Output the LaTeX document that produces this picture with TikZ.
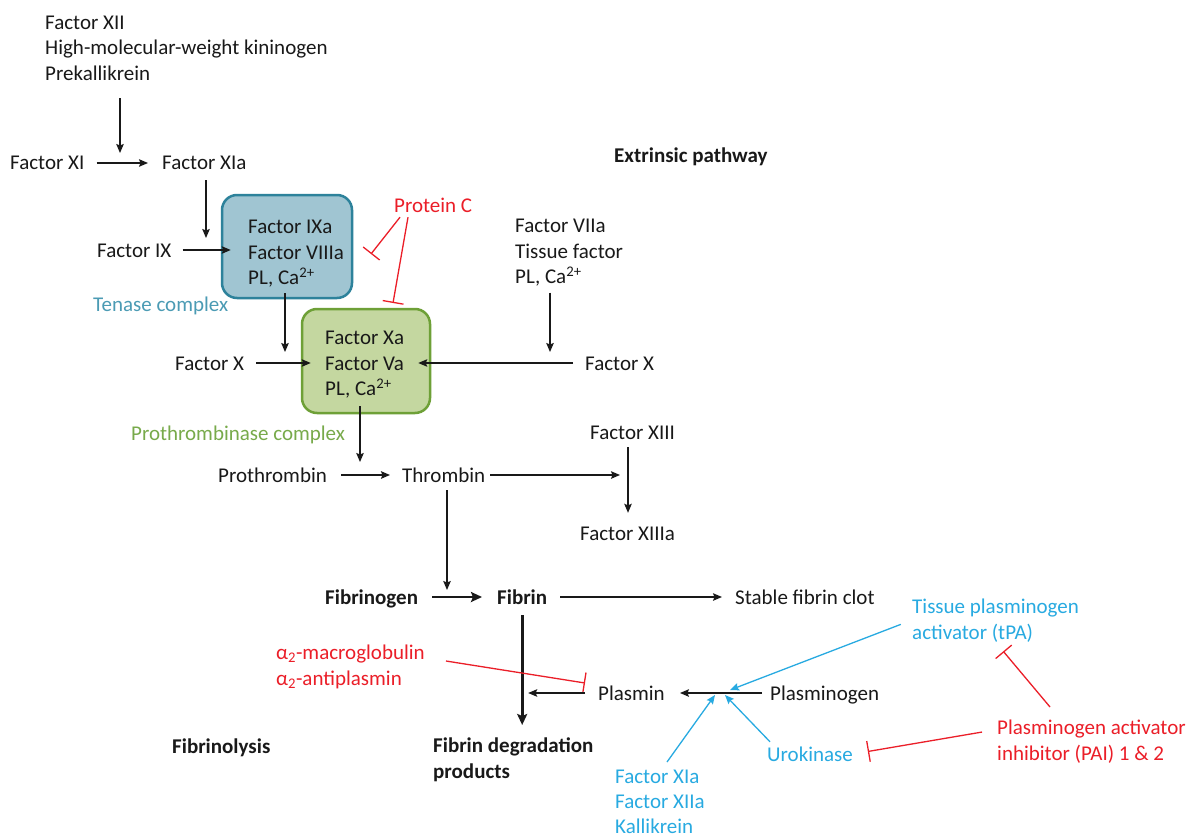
\documentclass[tikz,border=0pt]{standalone}
\usepackage{fontspec}
\setmainfont{Carlito}
\usetikzlibrary{arrows.meta,calc}
\definecolor{myred}{RGB}{235,30,40}
\definecolor{mycyan}{RGB}{40,170,225}
\definecolor{tealtxt}{RGB}{75,155,180}
\definecolor{tenfill}{RGB}{160,197,210}
\definecolor{tendraw}{RGB}{45,130,155}
\definecolor{grfill}{RGB}{196,215,160}
\definecolor{grdraw}{RGB}{110,160,55}
\definecolor{grtxt}{RGB}{120,170,75}
\definecolor{txt}{RGB}{25,25,25}
\newcommand{\fstrut}{\rule{0pt}{15pt}}
\begin{document}
\begin{tikzpicture}[x=1pt,y=-1pt,
  every node/.style={font=\fontsize{21}{25.8}\selectfont, text=txt, inner sep=0pt},
  bf/.style={font=\fontsize{21}{25.8}\selectfont\bfseries},
  lbl/.style={anchor=west, text height=15pt, text depth=1pt},
  blk/.style={anchor=north west, align=left},
  arr/.style={draw=txt, line width=1.2pt, -{Stealth[length=9pt,width=7.5pt,inset=1.5pt]}},
  tarr/.style={draw=txt, line width=2.6pt, -{Stealth[length=11pt,width=10pt,inset=2pt]}},
  carr/.style={draw=mycyan, line width=1.3pt, -{Stealth[length=9pt,width=7.5pt,inset=1.5pt]}},
  inh/.style={draw=myred, line width=1.3pt, -{Bar[width=21pt,line width=1.3pt]}},
  tenbox/.style={draw=tendraw, fill=tenfill, line width=2.5pt, rounded corners=15pt, minimum width=130pt, minimum height=103pt},
  probox/.style={draw=grdraw, fill=grfill, line width=2.5pt, rounded corners=15pt, minimum width=128pt, minimum height=104pt},
]
\useasboundingbox[fill=white] (0,0) rectangle (1190,837);

% boxes
\node[tenbox] (ten) at (287,246.5) {};
\node[probox] (pro) at (366,361) {};

% nodes
\node[blk] (xii) at (45,14) {\fstrut Factor XII\\High-molecular-weight kininogen\\Prekallikrein};
\node[lbl] (xi) at (10,163) {Factor XI};
\node[lbl] (xia) at (162,163) {Factor XIa};
\node[lbl] (ix) at (97,250) {Factor IX};
\node[blk] (tent) at (248,218) {\fstrut Factor IXa\\Factor VIIIa\\PL, Ca\textsuperscript{2+}};
\node[lbl, text=tealtxt] (tenl) at (93,304) {Tenase complex};
\node[lbl] (xL) at (175,363) {Factor X};
\node[blk] (prot) at (325,329) {\fstrut Factor Xa\\Factor Va\\PL, Ca\textsuperscript{2+}};
\node[lbl, text=grtxt] (prol) at (131,433) {Prothrombinase complex};
\node[lbl, text=myred] (pc) at (394,205) {Protein C};
\node[blk] (vii) at (515,217) {\fstrut Factor VIIa\\Tissue factor\\PL, Ca\textsuperscript{2+}};
\node[lbl] (xR) at (585,363) {Factor X};
\node[lbl, bf] (ext) at (614,156) {Extrinsic pathway};
\node[lbl] (pth) at (218,475) {Prothrombin};
\node[lbl] (thr) at (402,475) {Thrombin};
\node[lbl] (xiii) at (590,432) {Factor XIII};
\node[lbl] (xiiia) at (580,533) {Factor XIIIa};
\node[lbl, bf] (fgn) at (325,597) {Fibrinogen};
\node[lbl, bf] (fib) at (497,597) {Fibrin};
\node[lbl] (clot) at (735,597) {Stable fibrin clot};
\node[blk, text=myred] (a2) at (276,644) {\fstrut α\textsubscript{2}-macroglobulin\\α\textsubscript{2}-antiplasmin};
\node[lbl] (plm) at (598,693) {Plasmin};
\node[lbl] (plg) at (770,693) {Plasminogen};
\node[blk, text=mycyan] (tpa) at (912,598) {\fstrut Tissue plasminogen\\activator (tPA)};
\node[lbl, text=mycyan] (uro) at (767,754) {Urokinase};
\node[blk, font=\fontsize{21}{25.3}\selectfont, text=mycyan] (kal) at (615,768) {\fstrut Factor XIa\\Factor XIIa\\Kallikrein};
\node[blk, text=myred] (pai) at (997,719) {\fstrut Plasminogen activator\\inhibitor (PAI) 1 \& 2};
\node[lbl, bf] (fbl) at (172,746) {Fibrinolysis};
\node[blk, bf] (fdp) at (433,737) {\fstrut Fibrin degradation\\products};

% junction coordinates
\coordinate (m1) at (120,163);
\coordinate (m2) at (206,250);
\coordinate (m3) at (285,363);
\coordinate (m4) at (360,475);
\coordinate (m5) at (550,363);
\coordinate (m6) at (628,475);
\coordinate (m7) at (447,597);
\coordinate (m8) at (730,690);
\coordinate (m9) at (715,695);
\coordinate (m10) at (725,695);
\coordinate (tenI) at (371,254);
\coordinate (proI) at (393,303);
\coordinate (plI) at (585,683);

% connectors
\draw[arr, shorten <=17pt, shorten >=10pt] (m1 |- xii.south) -- (m1);
\draw[arr, shorten <=12pt, shorten >=14pt] (xi) -- (xia);
\draw[arr, shorten <=9pt, shorten >=12pt] (m2 |- xia.south) -- (m2);
\draw[arr, shorten <=11pt, shorten >=-10pt] (ix.east) -- (ix.east -| ten.west);
\draw[arr, shorten <=-6pt, shorten >=11pt] (m3 |- ten.south) -- (m3);
\draw[arr, shorten <=12pt, shorten >=-10pt] (xL.east) -- (xL.east -| pro.west);
\draw[arr, shorten <=-8pt, shorten >=13pt] (m4 |- pro.south) -- (m4);
\draw[inh] ($(pc.south west)+(6,4)$) -- (tenI);
\draw[inh] ($(pc.south west)+(14,4)$) -- (proI);
\draw[arr, shorten <=6pt, shorten >=11pt] (m5 |- vii.south) -- (m5);
\draw[arr, shorten <=12pt, shorten >=-13pt] (xR.west) -- (xR.west -| pro.east);
\draw[arr, line width=1.6pt, shorten <=14pt, shorten >=12pt] (pth) -- (thr);
\draw[arr, shorten <=5pt, shorten >=8pt] (thr) -- (m6);
\draw[arr, shorten <=7pt, shorten >=12pt] (m6 |- xiii.south) -- (m6 |- xiiia.north);
\draw[arr, shorten <=7pt, shorten >=7pt] (m7 |- thr.south) -- (m7);
\draw[tarr, shorten <=14pt, shorten >=15pt] (fgn) -- (fib);
\draw[arr, shorten <=13pt, shorten >=13pt] (fib) -- (clot);
\draw[tarr, line width=3pt, shorten <=10pt, shorten >=12pt] (fib.south) -- (fib.south |- fdp.north);
\draw[inh] ($(a2.north east)+(21,17)$) -- (plI);
\draw[arr, shorten <=13pt, shorten >=6pt] (plm.west) -- (plm.west -| fib.south);
\draw[arr, shorten <=8pt, shorten >=15pt] (plg) -- (plm);
\draw[carr, shorten <=12pt] (tpa.west) -- (m8);
\draw[carr] ($(uro.north west)+(3,-4)$) -- (m10);
\draw[carr] ($(kal.north west)+(52,-6)$) -- (m9);
\draw[inh, shorten >=12pt] ($(pai.north west)+(53,-12)$) -- (tpa.south);
\draw[inh, shorten >=15pt] ($(pai.west)+(-15,-9)$) -- (uro.east);
\end{tikzpicture}
\end{document}
